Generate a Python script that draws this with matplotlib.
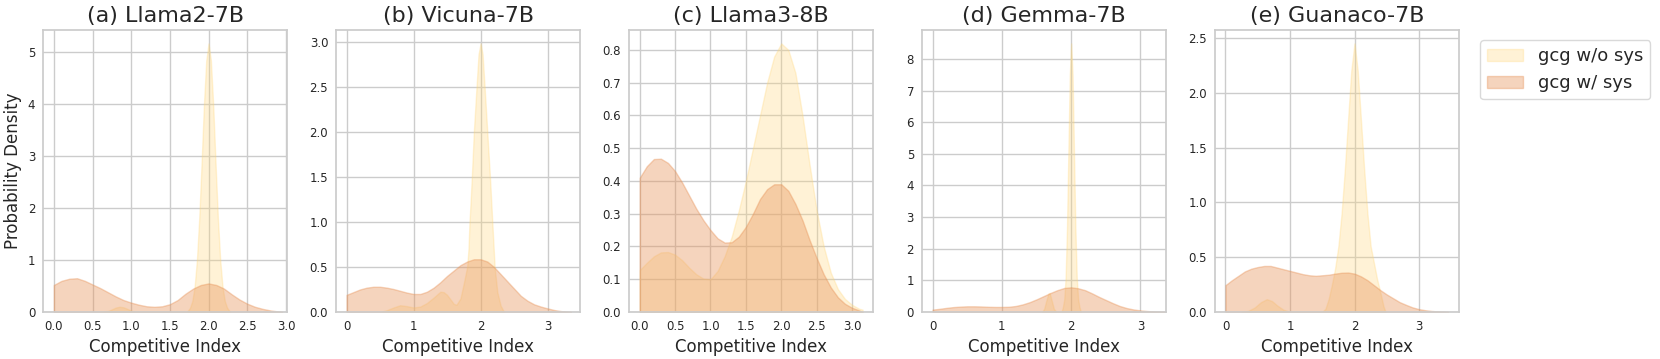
import matplotlib
matplotlib.use("Agg")
import matplotlib.pyplot as plt
from matplotlib.patches import Patch
import seaborn as sns

# ---------------- data ----------------
titles = ["(a) Llama2-7B", "(b) Vicuna-7B", "(c) Llama3-8B", "(d) Gemma-7B", "(e) Guanaco-7B"]
series_labels = ["gcg w/o sys", "gcg w/ sys"]

# (a) Llama2-7B
a_wo_x = [0.6, 0.7, 0.75, 0.8, 0.85, 0.9, 0.95, 1.0, 1.05, 1.1, 1.7, 1.72, 1.76, 1.79, 1.82, 1.85, 1.88,
          1.91, 1.94, 1.97, 2.0, 2.03, 2.06, 2.09, 2.12, 2.15, 2.18, 2.21, 2.24, 2.28]
a_wo_y = [0.0, 0.02, 0.05, 0.085, 0.10, 0.09, 0.06, 0.025, 0.005, 0.0, 0.0, 0.0, 0.08, 0.21, 0.49, 1.01, 1.82,
          2.87, 3.98, 4.84, 5.17, 4.84, 3.98, 2.87, 1.82, 1.01, 0.49, 0.21, 0.08, 0.0]
a_w_x = [0.0, 0.1, 0.2, 0.3, 0.4, 0.5, 0.6, 0.7, 0.8, 0.9, 1.0, 1.1, 1.2, 1.3, 1.4, 1.5, 1.6, 1.7, 1.8, 1.9,
         2.0, 2.1, 2.2, 2.3, 2.4, 2.5, 2.6, 2.7, 2.8, 2.9, 2.95]
a_w_y = [0.52, 0.60, 0.64, 0.65, 0.60, 0.53, 0.46, 0.38, 0.30, 0.23, 0.18, 0.14, 0.11, 0.10, 0.11, 0.15, 0.23,
         0.35, 0.45, 0.52, 0.55, 0.52, 0.45, 0.34, 0.24, 0.16, 0.10, 0.06, 0.03, 0.01, 0.0]

# (b) Vicuna-7B
b_wo_x = [0.5, 0.6, 0.7, 0.8, 0.9, 1.0, 1.1, 1.2, 1.3, 1.4, 1.45, 1.5, 1.55, 1.6, 1.64, 1.7, 1.75, 1.8, 1.82,
          1.835, 1.85, 1.87, 1.9, 1.94, 1.97, 2.0, 2.03, 2.06, 2.1, 2.14, 2.175, 2.21, 2.25, 2.3, 2.35]
b_wo_y = [0.0, 0.02, 0.05, 0.075, 0.065, 0.05, 0.06, 0.10, 0.16, 0.225, 0.22, 0.19, 0.14, 0.09, 0.08, 0.15,
          0.32, 0.5, 0.7, 1.0, 1.2, 1.5, 2.0, 2.5, 2.86, 2.98, 2.86, 2.5, 2.0, 1.5, 1.0, 0.5, 0.22, 0.07, 0.0]
b_w_x = [0.0, 0.1, 0.2, 0.3, 0.4, 0.5, 0.6, 0.7, 0.8, 0.9, 1.0, 1.1, 1.2, 1.3, 1.4, 1.5, 1.6, 1.7, 1.8, 1.9,
         2.0, 2.1, 2.2, 2.3, 2.4, 2.5, 2.6, 2.7, 2.8, 2.9, 3.0, 3.1, 3.2, 3.3, 3.35]
b_w_y = [0.19, 0.22, 0.25, 0.27, 0.28, 0.28, 0.27, 0.255, 0.235, 0.215, 0.20, 0.20, 0.225, 0.27, 0.33, 0.40,
         0.46, 0.52, 0.56, 0.585, 0.585, 0.56, 0.50, 0.42, 0.34, 0.26, 0.18, 0.125, 0.085, 0.06, 0.04, 0.022,
         0.01, 0.003, 0.0]

# (c) Llama3-8B
c_wo_x = [0.0, 0.1, 0.2, 0.3, 0.4, 0.5, 0.6, 0.7, 0.8, 0.9, 1.0, 1.1, 1.2, 1.3, 1.4, 1.5, 1.6, 1.7, 1.8, 1.9,
          2.0, 2.1, 2.2, 2.3, 2.4, 2.5, 2.6, 2.7, 2.8, 2.9, 3.0, 3.1, 3.15]
c_wo_y = [0.128, 0.15, 0.17, 0.182, 0.183, 0.175, 0.158, 0.135, 0.115, 0.102, 0.10, 0.125, 0.17, 0.23, 0.31,
          0.40, 0.50, 0.60, 0.70, 0.78, 0.82, 0.80, 0.73, 0.60, 0.45, 0.31, 0.20, 0.12, 0.07, 0.04, 0.022,
          0.01, 0.007]
c_w_x = [0.0, 0.1, 0.2, 0.3, 0.4, 0.5, 0.6, 0.7, 0.8, 0.9, 1.0, 1.1, 1.2, 1.3, 1.4, 1.5, 1.6, 1.7, 1.8, 1.9,
         2.0, 2.1, 2.2, 2.3, 2.4, 2.5, 2.6, 2.7, 2.8, 2.9, 3.0, 3.1, 3.15]
c_w_y = [0.41, 0.445, 0.467, 0.468, 0.455, 0.43, 0.395, 0.355, 0.315, 0.28, 0.25, 0.225, 0.212, 0.213, 0.23,
         0.26, 0.30, 0.345, 0.375, 0.39, 0.39, 0.37, 0.33, 0.28, 0.22, 0.165, 0.115, 0.075, 0.045, 0.025,
         0.013, 0.005, 0.0]

# (d) Gemma-7B
d_wo_x = [1.58, 1.61, 1.64, 1.67, 1.69, 1.72, 1.75, 1.78, 1.81, 1.86, 1.88, 1.9, 1.92, 1.94, 1.96, 1.98, 2.0,
          2.02, 2.04, 2.06, 2.08, 2.1, 2.12, 2.14]
d_wo_y = [0.0, 0.1, 0.35, 0.58, 0.6, 0.35, 0.1, 0.02, 0.0, 0.0, 0.15, 0.4, 1.1, 2.7, 5.1, 7.5, 8.49,
          7.5, 5.1, 2.7, 1.1, 0.4, 0.15, 0.0]
d_w_x = [0.0, 0.1, 0.2, 0.3, 0.4, 0.5, 0.6, 0.7, 0.8, 0.9, 1.0, 1.1, 1.2, 1.3, 1.4, 1.5, 1.6, 1.7, 1.8, 1.9,
         2.0, 2.1, 2.2, 2.3, 2.4, 2.5, 2.6, 2.7, 2.8, 2.9, 3.0, 3.1, 3.2, 3.3, 3.35]
d_w_y = [0.075, 0.10, 0.13, 0.155, 0.17, 0.18, 0.18, 0.175, 0.165, 0.16, 0.16, 0.165, 0.19, 0.24, 0.31, 0.40,
         0.50, 0.60, 0.69, 0.76, 0.78, 0.75, 0.69, 0.59, 0.48, 0.38, 0.28, 0.19, 0.125, 0.08, 0.05, 0.03,
         0.015, 0.005, 0.0]

# (e) Guanaco-7B
e_wo_x = [0.25, 0.35, 0.45, 0.55, 0.64, 0.72, 0.8, 0.9, 1.0, 1.05, 1.5, 1.55, 1.6, 1.65, 1.7, 1.75, 1.8, 1.85,
          1.9, 1.95, 2.0, 2.05, 2.1, 2.15, 2.2, 2.25, 2.3, 2.35, 2.4, 2.45, 2.48]
e_wo_y = [0.0, 0.01, 0.04, 0.09, 0.117, 0.10, 0.06, 0.02, 0.003, 0.0, 0.0, 0.03, 0.12, 0.25, 0.4, 0.6, 0.9,
          1.3, 1.75, 2.2, 2.45, 2.2, 1.75, 1.3, 0.9, 0.6, 0.45, 0.3, 0.18, 0.05, 0.0]
e_w_x = [0.0, 0.1, 0.2, 0.3, 0.4, 0.5, 0.6, 0.7, 0.8, 0.9, 1.0, 1.1, 1.2, 1.3, 1.4, 1.5, 1.6, 1.7, 1.8, 1.9,
         2.0, 2.1, 2.2, 2.3, 2.4, 2.5, 2.6, 2.7, 2.8, 2.9, 3.0, 3.1, 3.2, 3.3, 3.4, 3.45]
e_w_y = [0.245, 0.29, 0.33, 0.37, 0.395, 0.41, 0.42, 0.42, 0.405, 0.39, 0.375, 0.36, 0.345, 0.335, 0.33,
         0.335, 0.34, 0.35, 0.358, 0.36, 0.35, 0.325, 0.29, 0.245, 0.2, 0.16, 0.125, 0.09, 0.065, 0.042,
         0.026, 0.016, 0.009, 0.005, 0.002, 0.0]

x_ticks = [[0.0, 0.5, 1.0, 1.5, 2.0, 2.5, 3.0], [0, 1, 2, 3], [0.0, 0.5, 1.0, 1.5, 2.0, 2.5, 3.0],
           [0, 1, 2, 3], [0, 1, 2, 3]]
x_tick_labels = [["0.0", "0.5", "1.0", "1.5", "2.0", "2.5", "3.0"], ["0", "1", "2", "3"],
                 ["0.0", "0.5", "1.0", "1.5", "2.0", "2.5", "3.0"], ["0", "1", "2", "3"], ["0", "1", "2", "3"]]

panels = [
    (a_wo_x, a_wo_y, a_w_x, a_w_y),
    (b_wo_x, b_wo_y, b_w_x, b_w_y),
    (c_wo_x, c_wo_y, c_w_x, c_w_y),
    (d_wo_x, d_wo_y, d_w_x, d_w_y),
    (e_wo_x, e_wo_y, e_w_x, e_w_y),
]
xlims = [(-0.14, 3.02), (-0.16, 3.49), (-0.155, 3.30), (-0.158, 3.37), (-0.17, 3.62)]

# ---------------- style ----------------
sns.set_style("whitegrid")
plt.rcParams["font.family"] = ["DejaVu Sans"]
plt.rcParams["axes.edgecolor"] = "#cccccc"
plt.rcParams["axes.linewidth"] = 1.25
plt.rcParams["grid.color"] = "#cccccc"
plt.rcParams["grid.linewidth"] = 1.0

col_wo = "#FFD77A"
col_w = "#E8945A"
alpha_wo = 0.3
alpha_w = 0.4

fig, axes = plt.subplots(1, 5, figsize=(16.6, 3.59), dpi=100)
fig.subplots_adjust(left=43 / 1660, right=1459 / 1660, top=1 - 30 / 359, bottom=1 - 312 / 359, wspace=0.198)

for i, ax in enumerate(axes):
    wx, wy, sx, sy = panels[i]
    ax.fill_between(wx, wy, 0, facecolor=col_wo, edgecolor=col_wo, alpha=alpha_wo, linewidth=1.0, zorder=2)
    ax.fill_between(sx, sy, 0, facecolor=col_w, edgecolor=col_w, alpha=alpha_w, linewidth=1.0, zorder=2)
    ax.set_xlim(*xlims[i])
    ax.set_ylim(bottom=0)
    ax.autoscale(enable=True, axis="y", tight=False)
    ax.set_ylim(bottom=0)
    ax.set_xticks(x_ticks[i])
    ax.set_xticklabels(x_tick_labels[i])
    ax.tick_params(axis="both", labelsize=8.5, length=0, pad=5.5, colors="#262626")
    ax.set_title(titles[i], fontsize=16, color="#262626")
    ax.set_xlabel("Competitive Index", fontsize=12, color="#262626")
    if i == 0:
        ax.set_ylabel("Probability Density", fontsize=12, color="#262626")
    ax.grid(True, zorder=0)
    ax.set_axisbelow(True)
    for sp in ax.spines.values():
        sp.set_visible(True)
        sp.set_color("#cccccc")

handles = [Patch(facecolor=col_wo, edgecolor=col_wo, alpha=alpha_wo, label=series_labels[0]),
           Patch(facecolor=col_w, edgecolor=col_w, alpha=alpha_w, label=series_labels[1])]
fig.legend(handles=handles, loc="upper left", bbox_to_anchor=(1480 / 1660, 1 - 40 / 359),
           borderaxespad=0, fontsize=13, frameon=True, fancybox=True, edgecolor="#d0d0d0")

fig.savefig("out.png", dpi=100)
